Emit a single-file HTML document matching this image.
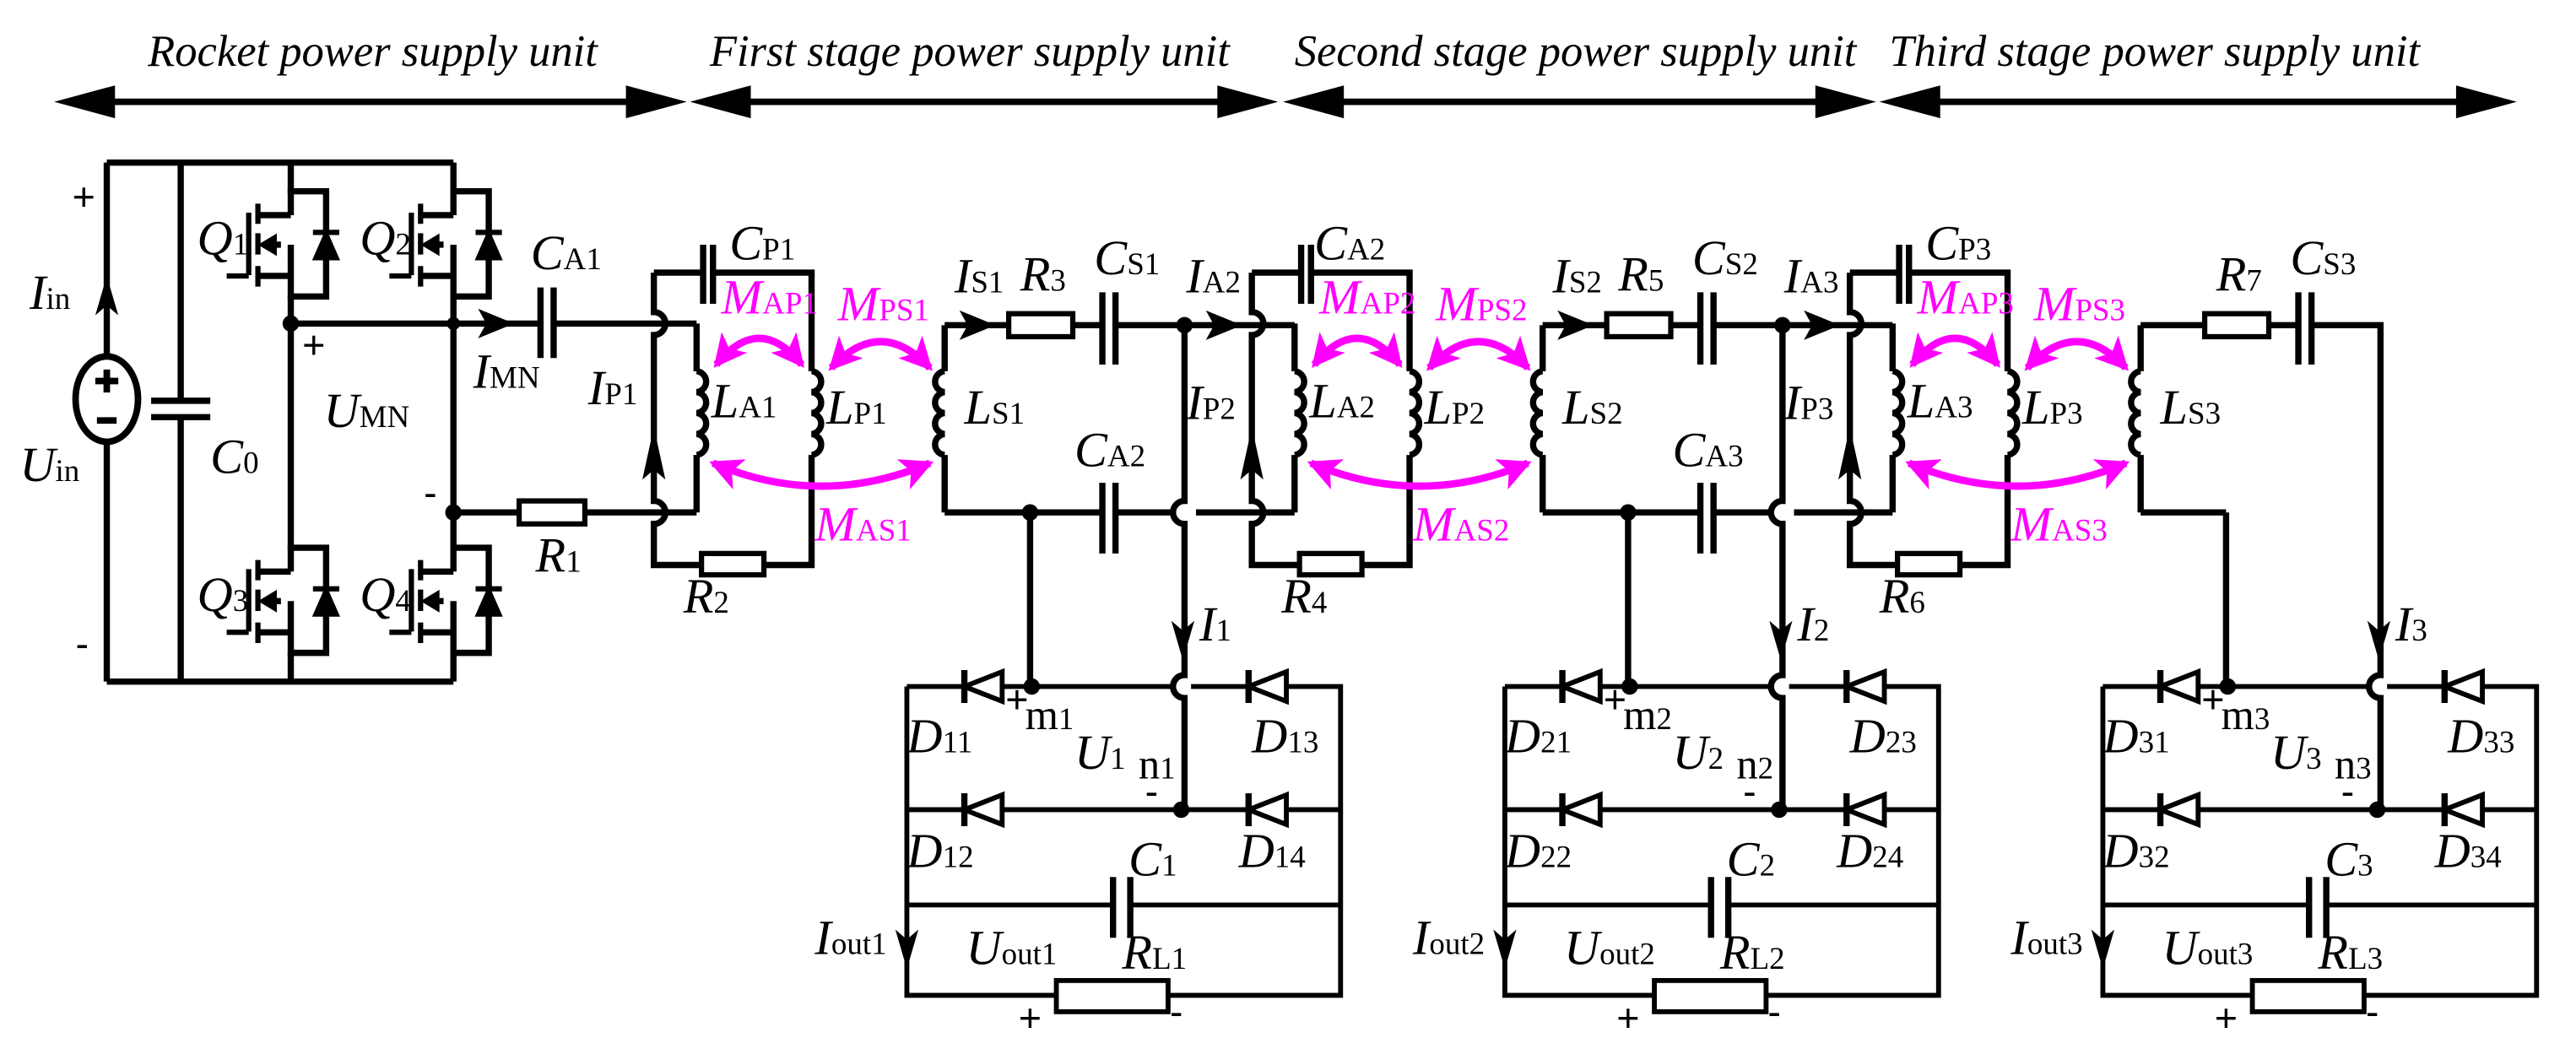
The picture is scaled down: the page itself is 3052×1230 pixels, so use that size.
<!DOCTYPE html>
<html><head><meta charset="utf-8"><style>
html,body{margin:0;padding:0;background:#fff;}
svg{display:block;}
text{font-family:"Liberation Serif",serif;fill:#000;}
.h{font-size:27px;font-style:italic;}
.l{font-size:30px;font-style:italic;}
.s{font-size:19px;font-style:normal;}
.m{fill:#ff00ff;}
.pm{font-size:24px;font-style:normal;font-family:"Liberation Sans",sans-serif;}
</style></head><body>
<svg width="3052" height="1230" viewBox="0 0 1568 632" preserveAspectRatio="none" xmlns="http://www.w3.org/2000/svg" xmlns:xlink="http://www.w3.org/1999/xlink">
<defs>
<marker id="mh" markerUnits="userSpaceOnUse" markerWidth="20" markerHeight="20" refX="14" refY="8" orient="auto-start-reverse" viewBox="0 0 16 16"><path d="M0,0 L16,8 L0,16 L4,8 Z" fill="#ff00ff"/></marker>
<!-- MOSFET with diode, leg x=0, y=0 at drain wire -->
<g id="q" fill="none" stroke="#000" stroke-width="3.8">
  <path d="M0,-2 V14.5 M0,32.5 V66 M0,0 H21.5 V64 H0"/>
  <path d="M-20,14.5 H0 M-20,51.5 H0 M-6,32.5 H-12"/>
  <path d="M-20,7.5 V19.8 M-20,25.5 V38.5 M-20,45.5 V58" stroke-width="3.2"/>
  <path d="M-25.6,13 V51 M-39,51.5 H-25.6" stroke-width="3.2"/>
  <path d="M-19,32.5 L-9,26.5 L-9,38.5 Z" fill="#000" stroke-width="1"/>
  <path d="M21.5,41 L14.5,41 L21.5,25 L28.5,41 Z" fill="#000" stroke-width="2"/>
  <path d="M13.5,25 H29.5" stroke-width="3.2"/>
</g>
<path id="cr" d="M0,0 a6.4,6.4 0 0 1 0,12.75 a6.4,6.4 0 0 1 0,12.75 a6.4,6.4 0 0 1 0,12.75 a6.4,6.4 0 0 1 0,12.75" fill="none" stroke="#000" stroke-width="3.8"/>
<path id="cl" d="M0,0 a6.4,6.4 0 0 0 0,12.75 a6.4,6.4 0 0 0 0,12.75 a6.4,6.4 0 0 0 0,12.75 a6.4,6.4 0 0 0 0,12.75" fill="none" stroke="#000" stroke-width="3.8"/>
<g id="d"><path d="M0,0 L23,-9 L23,9 Z" fill="#fff" stroke="#000" stroke-width="3"/><path d="M0,-10 V10" stroke="#000" stroke-width="3.8"/></g>
<g id="core">
 <g fill="none" stroke="#000" stroke-width="3.8">
  <path d="M398,166 V190 a7,7 0 0 1 0,14 V305 a7,7 0 0 1 0,14 V344 H427 M465,344 H494 V277 M494,226 V166 H434 M428,166 H398"/>
  <path d="M428,149 V185 M434,149 V185"/>
  <rect x="427" y="337" width="38" height="13" stroke-width="3.2"/>
  <path d="M424,197 V226 M424,277 V312"/>
  <path d="M575,198 V226 M575,277 V312 M575,198 H614 M653,198 H671 M575,312 H627"/>
  <rect x="614" y="191" width="39" height="14" stroke-width="3.2"/>
  <path d="M671,178 V222 M679,178 V222"/>
  <path d="M627,312 V418"/>
 </g>
 <use xlink:href="#cr" x="424" y="226"/><use xlink:href="#cr" x="494" y="226"/><use xlink:href="#cl" x="575" y="226"/>
 <path d="M398,260 L391,292 L398,286 L405,292 Z" fill="#000"/>
 <g fill="none" stroke="#ff00ff" stroke-width="4.5">
  <path d="M436,222 Q462,190 488,222" marker-start="url(#mh)" marker-end="url(#mh)"/>
  <path d="M506,224 Q536,192 566,224" marker-start="url(#mh)" marker-end="url(#mh)"/>
  <path d="M434,282 Q500,310 566,282" marker-start="url(#mh)" marker-end="url(#mh)"/>
 </g>
 <g fill="none" stroke="#000" stroke-width="3">
  <path d="M552,418 H714 M552,418 V606 H643 M711,606 H816 V418 H725"/>
  <path d="M552,493 H816 M552,551 H677 M688,551 H816"/>
  <path d="M677.5,534 V571 M688,534 V571" stroke-width="3.8"/>
  <rect x="643" y="597" width="68" height="19"/>
 </g>
 <use xlink:href="#d" x="587" y="418"/><use xlink:href="#d" x="760" y="418"/>
 <use xlink:href="#d" x="587" y="493"/><use xlink:href="#d" x="760" y="493"/>
 <circle cx="628" cy="418" r="5"/><circle cx="719" cy="493" r="5"/>
 <path d="M552,590 L545,566 L552,572 L559,566 Z" fill="#000"/>
 <path d="M720,402 L713,378 L720,384 L727,378 Z" fill="#000"/>
</g>
<g id="tailA">
 <g fill="none" stroke="#000" stroke-width="3.8">
  <path d="M679,198 H788 M627,312 H671 M679,312 H714 M728,312 H788"/>
  <path d="M671,294 V337 M679,294 V337"/>
  <path d="M721,198 V305 a7,7 0 0 0 0,14 V411 a7,7 0 0 0 0,14 V493"/>
 </g>
 <circle cx="721" cy="198" r="5"/><circle cx="627" cy="312" r="5"/>
 <path d="M606,198 L584,189 L589,198 L584,207 Z" fill="#000"/>
 <path d="M756,198 L734,189 L739,198 L734,207 Z" fill="#000"/>
</g>
<g id="tailB">
 <g fill="none" stroke="#000" stroke-width="3.8">
  <path d="M679,198 H721 V411 a7,7 0 0 0 0,14 V493"/>
 </g>
</g>
</defs>

<text class="h" x="90" y="40">Rocket power supply unit</text>
<text class="h" x="432" y="40">First stage power supply unit</text>
<text class="h" x="788" y="40">Second stage power supply unit</text>
<text class="h" x="1150" y="40">Third stage power supply unit</text>
<g stroke="#000" stroke-width="4">
 <path d="M60,62 H392 M445,62 H752 M807,62 H1117 M1170,62 H1505"/>
</g>
<g fill="#000">
 <path d="M33,62 L70,52 L70,72 Z M418,62 L381,52 L381,72 Z"/>
 <path d="M420,62 L457,52 L457,72 Z M778,62 L741,52 L741,72 Z"/>
 <path d="M781,62 L818,52 L818,72 Z M1142,62 L1105,52 L1105,72 Z"/>
 <path d="M1144,62 L1181,52 L1181,72 Z M1532,62 L1495,52 L1495,72 Z"/>
</g>

<g fill="none" stroke="#000" stroke-width="3.8">
 <path d="M65,99 H276 M65,415 H276 M65,99 V217 M65,269 V415"/>
 <path d="M110,99 V244 M110,254 V415 M92,244 H128 M92,254 H128"/>
 <path d="M177,99 V118 M177,180 V335 M177,397 V415"/>
 <path d="M276,99 V118 M276,180 V335 M276,397 V415"/>
 <path d="M177,197 H329 M337,197 H424 M276,312 H316 M356,312 H424"/>
 <path d="M329,175 V218 M337,175 V218"/>
 <rect x="316" y="305" width="40" height="14" stroke-width="3.2"/>
 <ellipse cx="65" cy="243" rx="19" ry="26" stroke-width="4"/>
</g>
<path d="M58,232 H72 M65,225 V239 M59,256 H71" stroke="#000" stroke-width="4"/>
<use xlink:href="#q" x="177" y="116.5"/><use xlink:href="#q" x="276" y="116.5"/>
<use xlink:href="#q" x="177" y="333.5"/><use xlink:href="#q" x="276" y="333.5"/>
<circle cx="177" cy="197" r="5"/><circle cx="276" cy="197" r="4"/><circle cx="276" cy="312" r="5"/>
<path d="M65,168 L58,192 L65,186 L72,192 Z" fill="#000"/>
<path d="M313,197 L291,188 L296,197 L291,206 Z" fill="#000"/>

<text class="pm" x="44" y="128">+</text><text class="pm" x="46" y="400">-</text>
<text class="l" x="18" y="188">I<tspan class="s">in</tspan></text>
<text class="l" x="12" y="293">U<tspan class="s">in</tspan></text>
<text class="l" x="128" y="288">C<tspan class="s">0</tspan></text>
<text class="l" x="120" y="155">Q<tspan class="s">1</tspan></text>
<text class="l" x="219" y="155">Q<tspan class="s">2</tspan></text>
<text class="l" x="120" y="372">Q<tspan class="s">3</tspan></text>
<text class="l" x="219" y="372">Q<tspan class="s">4</tspan></text>
<text class="pm" x="184" y="218">+</text><text class="pm" x="258" y="308">-</text>
<text class="l" x="197" y="260">U<tspan class="s">MN</tspan></text>
<text class="l" x="288" y="236">I<tspan class="s">MN</tspan></text>
<text class="l" x="323" y="164">C<tspan class="s">A1</tspan></text>
<text class="l" x="326" y="348">R<tspan class="s">1</tspan></text>

<use xlink:href="#core"/><use xlink:href="#tailA"/>
<use xlink:href="#core" x="364"/><use xlink:href="#tailA" x="364"/>
<use xlink:href="#core" x="728"/><use xlink:href="#tailB" x="728"/>

<g>
<text class="l" x="358" y="246">I<tspan class="s">P1</tspan></text>
<text class="l" x="444" y="158">C<tspan class="s">P1</tspan></text>
<text class="l m" x="439" y="191">M<tspan class="s">AP1</tspan></text>
<text class="l m" x="510" y="195">M<tspan class="s">PS1</tspan></text>
<text class="l m" x="496" y="329">M<tspan class="s">AS1</tspan></text>
<text class="l" x="433" y="254">L<tspan class="s">A1</tspan></text>
<text class="l" x="503" y="258">L<tspan class="s">P1</tspan></text>
<text class="l" x="587" y="258">L<tspan class="s">S1</tspan></text>
<text class="l" x="581" y="178">I<tspan class="s">S1</tspan></text>
<text class="l" x="621" y="177">R<tspan class="s">3</tspan></text>
<text class="l" x="666" y="167">C<tspan class="s">S1</tspan></text>
<text class="l" x="722" y="178">I<tspan class="s">A2</tspan></text>
<text class="l" x="654" y="284">C<tspan class="s">A2</tspan></text>
<text class="l" x="416" y="373">R<tspan class="s">2</tspan></text>
<text class="l" x="730" y="390">I<tspan class="s">1</tspan></text>
<text class="l" x="552" y="458">D<tspan class="s">11</tspan></text>
<text class="l" x="552" y="528">D<tspan class="s">12</tspan></text>
<text class="l" x="762" y="458">D<tspan class="s">13</tspan></text>
<text class="l" x="754" y="528">D<tspan class="s">14</tspan></text>
<text class="pm" x="612" y="434">+</text><text x="624" y="444" style="font-size:26px">m<tspan class="s">1</tspan></text>
<text class="l" x="654" y="468">U<tspan class="s">1</tspan></text>
<text x="693" y="474" style="font-size:26px">n<tspan class="s">1</tspan></text>
<text class="pm" x="697" y="490">-</text>
<text class="l" x="687" y="533">C<tspan class="s">1</tspan></text>
<text class="l" x="588" y="587">U<tspan class="s">out1</tspan></text>
<text class="l" x="683" y="590">R<tspan class="s">L1</tspan></text>
<text class="l" x="496" y="581">I<tspan class="s">out1</tspan></text>
<text class="pm" x="620" y="628">+</text><text class="pm" x="712" y="624">-</text>
</g>
<g>
<text class="l" x="722" y="255">I<tspan class="s">P2</tspan></text>
<text class="l" x="800" y="158">C<tspan class="s">A2</tspan></text>
<text class="l m" x="803" y="191">M<tspan class="s">AP2</tspan></text>
<text class="l m" x="874" y="195">M<tspan class="s">PS2</tspan></text>
<text class="l m" x="860" y="329">M<tspan class="s">AS2</tspan></text>
<text class="l" x="797" y="254">L<tspan class="s">A2</tspan></text>
<text class="l" x="867" y="258">L<tspan class="s">P2</tspan></text>
<text class="l" x="951" y="258">L<tspan class="s">S2</tspan></text>
<text class="l" x="945" y="178">I<tspan class="s">S2</tspan></text>
<text class="l" x="985" y="177">R<tspan class="s">5</tspan></text>
<text class="l" x="1030" y="167">C<tspan class="s">S2</tspan></text>
<text class="l" x="1086" y="178">I<tspan class="s">A3</tspan></text>
<text class="l" x="1018" y="284">C<tspan class="s">A3</tspan></text>
<text class="l" x="780" y="373">R<tspan class="s">4</tspan></text>
<text class="l" x="1094" y="390">I<tspan class="s">2</tspan></text>
<text class="l" x="916" y="458">D<tspan class="s">21</tspan></text>
<text class="l" x="916" y="528">D<tspan class="s">22</tspan></text>
<text class="l" x="1126" y="458">D<tspan class="s">23</tspan></text>
<text class="l" x="1118" y="528">D<tspan class="s">24</tspan></text>
<text class="pm" x="976" y="434">+</text><text x="988" y="444" style="font-size:26px">m<tspan class="s">2</tspan></text>
<text class="l" x="1018" y="468">U<tspan class="s">2</tspan></text>
<text x="1057" y="474" style="font-size:26px">n<tspan class="s">2</tspan></text>
<text class="pm" x="1061" y="490">-</text>
<text class="l" x="1051" y="533">C<tspan class="s">2</tspan></text>
<text class="l" x="952" y="587">U<tspan class="s">out2</tspan></text>
<text class="l" x="1047" y="590">R<tspan class="s">L2</tspan></text>
<text class="l" x="860" y="581">I<tspan class="s">out2</tspan></text>
<text class="pm" x="984" y="628">+</text><text class="pm" x="1076" y="624">-</text>
</g>
<g>
<text class="l" x="1086" y="255">I<tspan class="s">P3</tspan></text>
<text class="l" x="1172" y="158">C<tspan class="s">P3</tspan></text>
<text class="l m" x="1167" y="191">M<tspan class="s">AP3</tspan></text>
<text class="l m" x="1238" y="195">M<tspan class="s">PS3</tspan></text>
<text class="l m" x="1224" y="329">M<tspan class="s">AS3</tspan></text>
<text class="l" x="1161" y="254">L<tspan class="s">A3</tspan></text>
<text class="l" x="1231" y="258">L<tspan class="s">P3</tspan></text>
<text class="l" x="1315" y="258">L<tspan class="s">S3</tspan></text>
<text class="l" x="1349" y="177">R<tspan class="s">7</tspan></text>
<text class="l" x="1394" y="167">C<tspan class="s">S3</tspan></text>
<text class="l" x="1144" y="373">R<tspan class="s">6</tspan></text>
<text class="l" x="1458" y="390">I<tspan class="s">3</tspan></text>
<text class="l" x="1280" y="458">D<tspan class="s">31</tspan></text>
<text class="l" x="1280" y="528">D<tspan class="s">32</tspan></text>
<text class="l" x="1490" y="458">D<tspan class="s">33</tspan></text>
<text class="l" x="1482" y="528">D<tspan class="s">34</tspan></text>
<text class="pm" x="1340" y="434">+</text><text x="1352" y="444" style="font-size:26px">m<tspan class="s">3</tspan></text>
<text class="l" x="1382" y="468">U<tspan class="s">3</tspan></text>
<text x="1421" y="474" style="font-size:26px">n<tspan class="s">3</tspan></text>
<text class="pm" x="1425" y="490">-</text>
<text class="l" x="1415" y="533">C<tspan class="s">3</tspan></text>
<text class="l" x="1316" y="587">U<tspan class="s">out3</tspan></text>
<text class="l" x="1411" y="590">R<tspan class="s">L3</tspan></text>
<text class="l" x="1224" y="581">I<tspan class="s">out3</tspan></text>
<text class="pm" x="1348" y="628">+</text><text class="pm" x="1440" y="624">-</text>
</g>
</svg>
</body></html>
